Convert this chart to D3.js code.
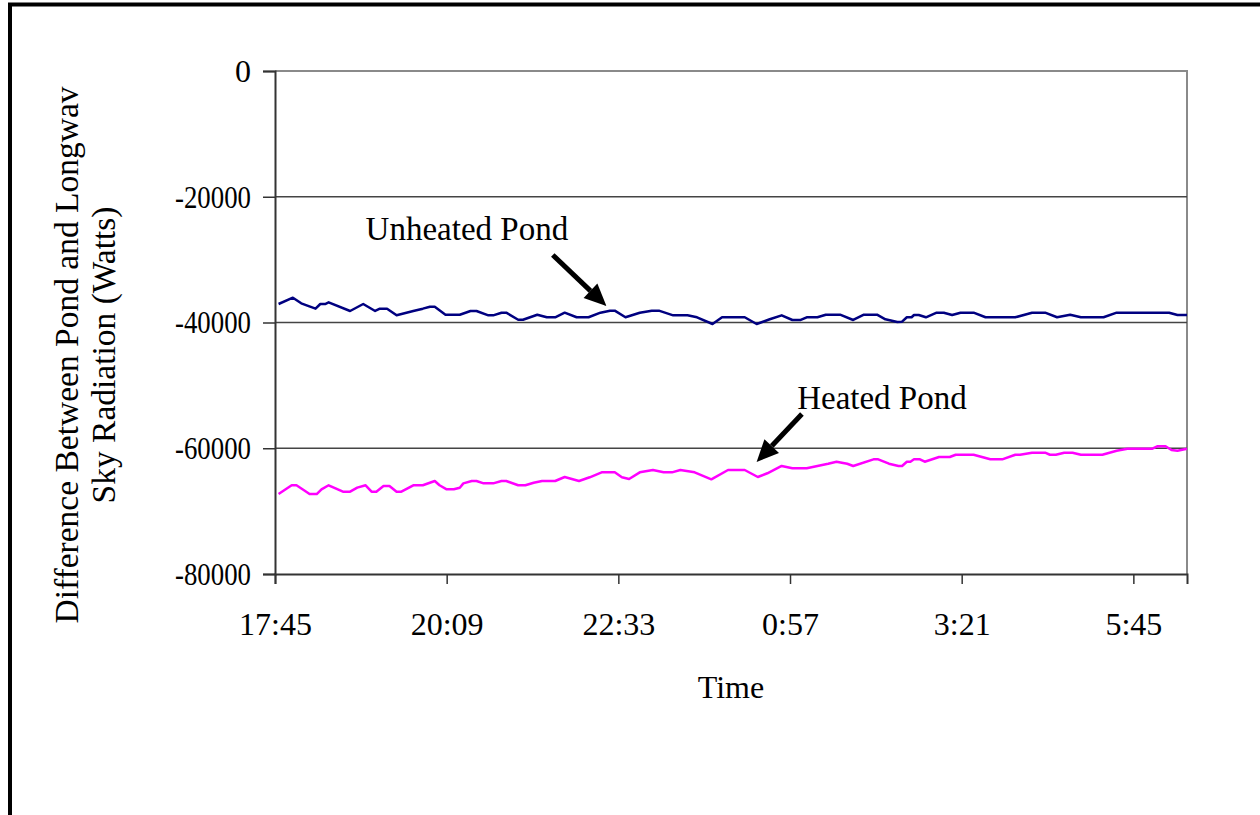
<!DOCTYPE html>
<html>
<head>
<meta charset="utf-8">
<script src="https://cdn.jsdelivr.net/npm/d3@7"></script>
<style>
  html, body { margin: 0; padding: 0; background: #fff; }
  svg { display: block; }
  text { font-family: "Liberation Serif", "Times New Roman", serif; fill: #000; }
</style>
</head>
<body>
<svg id="chart" width="1260" height="815"></svg>
<script>
// ---------- data ----------
const startTime = "17:45";
const endTime = "6:30";
const xTickLabels = ["17:45", "20:09", "22:33", "0:57", "3:21", "5:45"];
const yTickValues = [0, -20000, -40000, -60000, -80000];

const unheatedTimes = ["17:48","18:00","18:07","18:19","18:23","18:27","18:30","18:48","18:59","19:09","19:13","19:19","19:27","19:41","19:49","19:55","19:59","20:08","20:20","20:29","20:34","20:44","20:48","20:55","20:59","21:09","21:13","21:25","21:33","21:40","21:48","21:58","22:08","22:18","22:26","22:30","22:39","22:51","23:01","23:07","23:19","23:31","23:39","23:52","0:00","0:19","0:29","0:40","0:50","0:59","1:06","1:11","1:20","1:27","1:39","1:50","1:59","2:10","2:17","2:27","2:31","2:35","2:39","2:41","2:45","2:51","3:00","3:06","3:13","3:20","3:31","3:41","4:06","4:20","4:31","4:41","4:52","5:01","5:20","5:31","6:15","6:22","6:30"];
const unheatedValues = [-37060,-36060,-36950,-37800,-37060,-37060,-36790,-38170,-37060,-38170,-37800,-37800,-38860,-38170,-37800,-37490,-37490,-38760,-38760,-38170,-38170,-38860,-38860,-38440,-38440,-39560,-39560,-38760,-39170,-39170,-38440,-39170,-39170,-38440,-38120,-38120,-39170,-38440,-38120,-38120,-38860,-38860,-39170,-40240,-39170,-39170,-40240,-39490,-38860,-39600,-39600,-39170,-39170,-38760,-38760,-39600,-38760,-38760,-39490,-39920,-39870,-39170,-39170,-38810,-38810,-39170,-38440,-38440,-38810,-38440,-38440,-39170,-39170,-38440,-38440,-39170,-38760,-39170,-39170,-38440,-38440,-38810,-38810];

const heatedTimes = ["17:48","17:59","18:03","18:09","18:14","18:20","18:24","18:30","18:42","18:48","18:54","19:01","19:06","19:10","19:16","19:21","19:27","19:31","19:41","19:49","19:59","20:03","20:09","20:15","20:20","20:23","20:30","20:34","20:40","20:48","20:55","20:59","21:09","21:15","21:22","21:29","21:40","21:48","22:00","22:09","22:19","22:30","22:36","22:42","22:51","23:02","23:11","23:18","23:25","23:37","23:51","0:05","0:19","0:30","0:38","0:50","0:59","1:11","1:20","1:29","1:36","1:45","1:50","2:07","2:11","2:20","2:28","2:31","2:35","2:38","2:41","2:46","2:50","3:02","3:11","3:16","3:31","3:45","3:55","4:06","4:10","4:20","4:31","4:35","4:40","4:47","4:54","5:01","5:19","5:31","5:40","6:01","6:05","6:12","6:17","6:22","6:30"];
const heatedValues = [-67280,-65890,-65890,-66640,-67280,-67280,-66530,-65890,-66910,-66910,-66270,-65890,-66910,-66910,-66000,-66000,-66910,-66910,-65890,-65890,-65210,-65890,-66530,-66530,-66270,-65580,-65210,-65210,-65580,-65580,-65210,-65210,-65890,-65890,-65480,-65210,-65210,-64570,-65210,-64620,-63830,-63830,-64620,-64890,-63830,-63460,-63830,-63830,-63460,-63830,-64940,-63460,-63460,-64570,-63980,-62820,-63190,-63190,-62820,-62460,-62140,-62460,-62820,-61760,-61760,-62460,-62820,-62820,-62140,-62140,-61760,-61760,-62140,-61390,-61390,-61030,-61030,-61760,-61760,-61030,-61030,-60710,-60710,-61030,-61030,-60710,-60710,-61030,-61030,-60390,-60070,-60070,-59690,-59690,-60280,-60390,-60070];

// annotation labels (anchored in data units)
const annotationLabels = ["Unheated Pond", "Heated Pond"];
const annotationTextAt = [["19:01", -26880], ["1:03", -53760]];
const annotationArrowFrom = [["21:38", -29260], ["1:07", -54550]];
const annotationArrowTo = [["22:23", -37380], ["0:29", -62190]];

const yTitleLines = ["Difference Between Pond and Longwav", "Sky Radiation (Watts)"];
const xTitle = "Time";

// ---------- helpers ----------
function toMin(t) {
  const [h, m] = t.split(":").map(Number);
  const s = startTime.split(":").map(Number);
  return ((h * 60 + m) - (s[0] * 60 + s[1]) + 1440) % 1440;
}

// ---------- layout ----------
const svg = d3.select("#chart");
const plot = { left: 275, right: 1187, top: 71, bottom: 574 };
const FS = 32;

const x = d3.scaleLinear().domain([0, toMin(endTime)]).range([plot.left, plot.right]);
const y = d3.scaleLinear().domain([-80000, 0]).range([plot.bottom, plot.top]);

// outer frame (left and top edges visible)
svg.append("path")
  .attr("d", `M10,820 L10,4.5 L1270,4.5`)
  .attr("fill", "none").attr("stroke", "#000").attr("stroke-width", 4);

// plot frame right + top
svg.append("path")
  .attr("d", `M${plot.left},${plot.top} L${plot.right},${plot.top} L${plot.right},${plot.bottom}`)
  .attr("fill", "none").attr("stroke", "#8a8a8a").attr("stroke-width", 2);

// gridlines
svg.append("g").selectAll("line")
  .data(yTickValues.filter(v => v !== 0 && v !== -80000))
  .join("line")
  .attr("x1", plot.left).attr("x2", plot.right)
  .attr("y1", d => y(d)).attr("y2", d => y(d))
  .attr("stroke", "#444").attr("stroke-width", 1.3);

// y axis
const yAxis = d3.axisLeft(y).tickValues(yTickValues).tickSize(12).tickPadding(12)
  .tickFormat(d => d === 0 ? "0" : d3.format("d")(d).replace("\u2212", "-"));
const gy = svg.append("g").attr("transform", `translate(${plot.left},0)`).call(yAxis);
gy.select(".domain").attr("stroke", "#333").attr("stroke-width", 2);
gy.selectAll(".tick line").attr("stroke", "#333").attr("stroke-width", 1.5);
gy.selectAll(".tick text").attr("font-size", FS).attr("font-family", "Liberation Serif").attr("fill", "#000")
  .each(function(d) {
    if (d !== 0) d3.select(this).attr("textLength", 76).attr("lengthAdjust", "spacingAndGlyphs");
  });

// x axis
const xAxis = d3.axisBottom(x).tickValues(xTickLabels.map(toMin)).tickSize(10).tickPadding(28)
  .tickFormat((d, i) => xTickLabels[i]);
const gx = svg.append("g").attr("transform", `translate(0,${plot.bottom})`).call(xAxis);
gx.select(".domain").attr("stroke", "#333").attr("stroke-width", 2);
gx.selectAll(".tick line").attr("stroke", "#333").attr("stroke-width", 1.5);
gx.selectAll(".tick text").attr("font-size", FS).attr("font-family", "Liberation Serif").attr("fill", "#000");

// lines
const line = d3.line().x(d => x(d.t)).y(d => y(d.v));
const unheated = unheatedTimes.map((t, i) => ({ t: toMin(t), v: unheatedValues[i] }));
const heated = heatedTimes.map((t, i) => ({ t: toMin(t), v: heatedValues[i] }));

svg.append("path").datum(unheated).attr("d", line)
  .attr("fill", "none").attr("stroke", "#000080").attr("stroke-width", 2.5).attr("stroke-linejoin", "round");
svg.append("path").datum(heated).attr("d", line)
  .attr("fill", "none").attr("stroke", "#FF00FF").attr("stroke-width", 2.5).attr("stroke-linejoin", "round");

// annotations
annotationLabels.forEach((lab, i) => {
  svg.append("text")
    .attr("x", x(toMin(annotationTextAt[i][0])))
    .attr("y", y(annotationTextAt[i][1]))
    .attr("font-size", 33)
    .text(lab);
  const x1 = x(toMin(annotationArrowFrom[i][0])), y1 = y(annotationArrowFrom[i][1]);
  const x2 = x(toMin(annotationArrowTo[i][0])), y2 = y(annotationArrowTo[i][1]);
  const ang = Math.atan2(y2 - y1, x2 - x1);
  const headLen = 22, headW = 10;
  const bx = x2 - headLen * Math.cos(ang), by = y2 - headLen * Math.sin(ang);
  svg.append("line")
    .attr("x1", x1).attr("y1", y1).attr("x2", bx).attr("y2", by)
    .attr("stroke", "#000").attr("stroke-width", 5);
  const px = -Math.sin(ang), py = Math.cos(ang);
  svg.append("path")
    .attr("d", `M${x2},${y2} L${bx + headW * px},${by + headW * py} L${bx - headW * px},${by - headW * py} Z`)
    .attr("fill", "#000");
});

// axis titles
svg.append("text")
  .attr("x", 731).attr("y", 698)
  .attr("text-anchor", "middle").attr("font-size", FS)
  .text(xTitle);

const yt = svg.append("text")
  .attr("transform", "translate(67,355) rotate(-90)")
  .attr("text-anchor", "middle").attr("font-size", 33.5);
yTitleLines.forEach((l, i) => {
  yt.append("tspan").attr("x", 0).attr("y", i * 37 + 11).text(l);
});
</script>
</body>
</html>
